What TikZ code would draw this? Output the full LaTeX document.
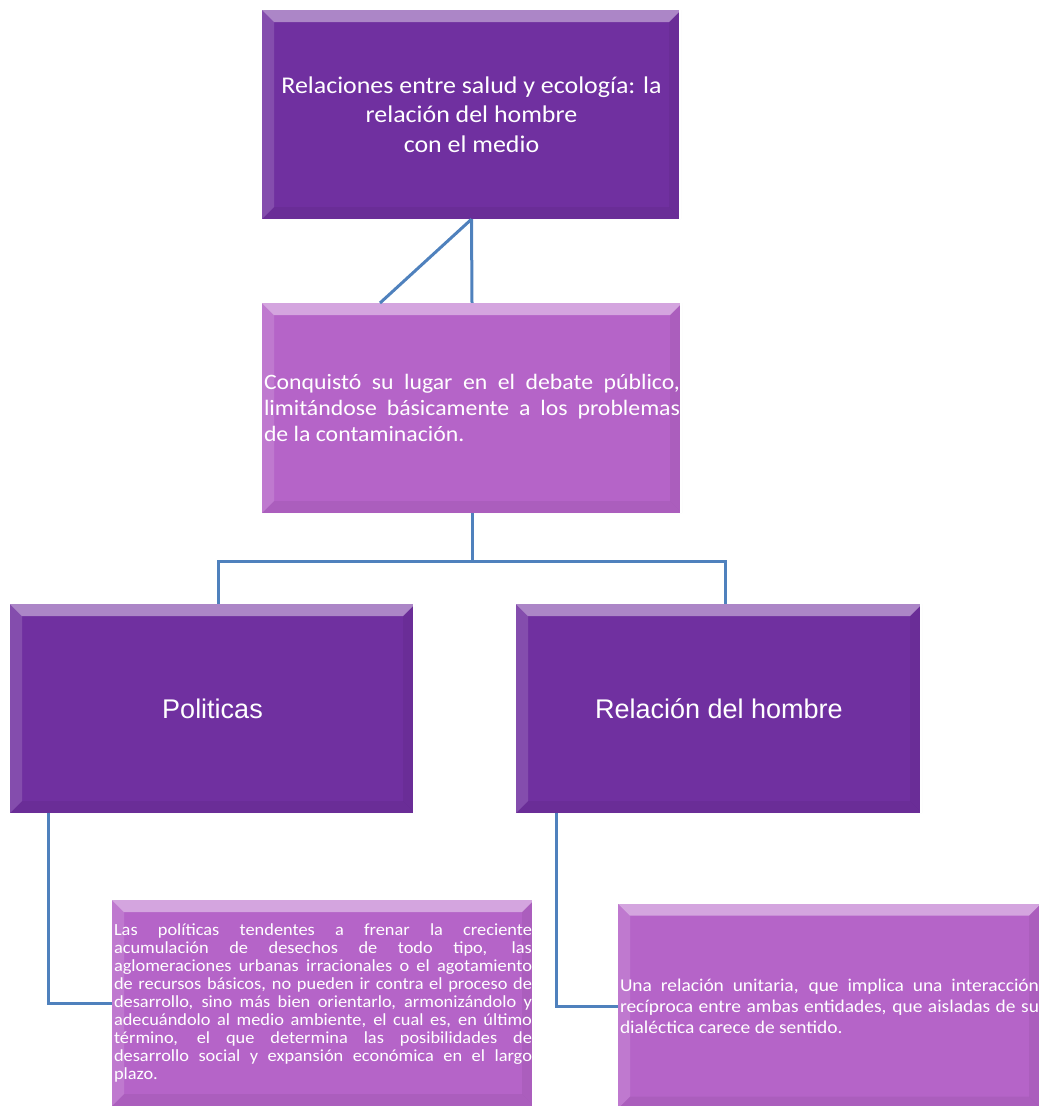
\documentclass[tikz,border=0pt]{standalone}
\usepackage{fontspec}
\setmainfont{Carlito}
\newfontfamily\widefont[FakeStretch=1.08]{Carlito}
\newfontfamily\arialfont{Liberation Sans}
\usepackage{tikz}
\usetikzlibrary{calc}

\definecolor{darkpurple}{RGB}{112,48,160}
\definecolor{lightpurple}{RGB}{181,100,200}
\definecolor{linkblue}{RGB}{79,129,189}

\newcommand{\nohyph}{\hyphenpenalty=10000\relax\exhyphenpenalty=10000\relax}

\tikzset{
  bevel/.style={path picture={
      % top and left faces lighter, bottom and right faces darker
      \fill[white,opacity=0.42] (path picture bounding box.north west) -- (path picture bounding box.north east)
        -- ([shift={(-12pt,-12pt)}]path picture bounding box.north east) -- ([shift={(12pt,-12pt)}]path picture bounding box.north west) -- cycle;
      \fill[white,opacity=0.14] (path picture bounding box.north west) -- ([shift={(12pt,-12pt)}]path picture bounding box.north west)
        -- ([shift={(12pt,12pt)}]path picture bounding box.south west) -- (path picture bounding box.south west) -- cycle;
      \fill[black,opacity=0.05] (path picture bounding box.south west) -- (path picture bounding box.south east)
        -- ([shift={(-12pt,12pt)}]path picture bounding box.south east) -- ([shift={(12pt,12pt)}]path picture bounding box.south west) -- cycle;
      \fill[black,opacity=0.05] (path picture bounding box.north east) -- ([shift={(-12pt,-12pt)}]path picture bounding box.north east)
        -- ([shift={(-12pt,12pt)}]path picture bounding box.south east) -- (path picture bounding box.south east) -- cycle;
      \draw[white,line width=1.5pt] ([xshift=-1pt]path picture bounding box.north east) -- ([xshift=-1pt]path picture bounding box.south east);
  }},
  darkbox/.style={rectangle, fill=darkpurple, bevel, inner sep=0pt, text=white, align=center},
  lightbox/.style={rectangle, fill=lightpurple, bevel, inner xsep=2pt, inner ysep=0pt, text=white, align=justify},
  link/.style={draw=linkblue, line width=3pt}
}

\begin{document}
\begin{tikzpicture}[x=1pt, y=-1pt]
    \useasboundingbox (0,0) rectangle (1039,1106);

    % upper boxes
    \node[darkbox, minimum width=419pt, minimum height=209pt,
          font=\widefont\fontsize{24}{29.5}\selectfont]
        (top) at (471.5,114.5) {Relaciones entre salud y ecología: la\\ relación del hombre\\ con el medio};
    \node[lightbox, minimum width=418pt, minimum height=210pt, text width=416pt,
          font=\widefont\fontsize{22}{26}\selectfont]
        (debate) at (472,408) {\nohyph Conquistó su lugar en el debate público,\linebreak
          limitándose básicamente a los problemas\linebreak
          de la contaminación.};

    % two branches
    \node[darkbox, minimum width=405pt, minimum height=209pt, font=\arialfont\fontsize{27}{31}\selectfont]
        (politicas) at (212.5,708.5) {Politicas};
    \node[darkbox, minimum width=406pt, minimum height=209pt, font=\arialfont\fontsize{27}{31}\selectfont]
        (hombre) at (719,708.5) {Relación del hombre};

    % detail boxes
    \node[lightbox, minimum width=418pt, minimum height=206pt, text width=418pt,
          font=\widefont\fontsize{17}{18}\selectfont]
        (txtpol) at (323,1003) {\nohyph Las políticas tendentes a frenar la creciente\linebreak
          acumulación de desechos de todo tipo, las\linebreak
          aglomeraciones urbanas irracionales o el agotamiento\linebreak
          de recursos básicos, no pueden ir contra el proceso de\linebreak
          desarrollo, sino más bien orientarlo, armonizándolo y\linebreak
          adecuándolo al medio ambiente, el cual es, en último\linebreak
          término, el que determina las posibilidades de\linebreak
          desarrollo social y expansión económica en el largo\linebreak
          plazo.};
    \node[lightbox, minimum width=419pt, minimum height=205pt, text width=419pt,
          font=\widefont\fontsize{18}{21}\selectfont]
        (txthom) at (829.5,1006) {\nohyph Una relación unitaria, que implica una interacción\linebreak
          recíproca entre ambas entidades, que aisladas de su\linebreak
          dialéctica carece de sentido.};

    % connectors
    \coordinate (slant) at (380,303);
    \draw[link] (top.south) -- (debate.north);
    \draw[link] (top.south) -- (slant);
    \draw[link] (debate.south) -- ++(0,48) -| ([xshift=5.5pt]politicas.north);
    \draw[link] (debate.south) -- ++(0,48) -| ([xshift=6pt]hombre.north);
    \draw[link] ([xshift=39pt]politicas.south west) |- (txtpol.west);
    \draw[link] ([xshift=41pt]hombre.south west) |- (txthom.west);
\end{tikzpicture}
\end{document}
